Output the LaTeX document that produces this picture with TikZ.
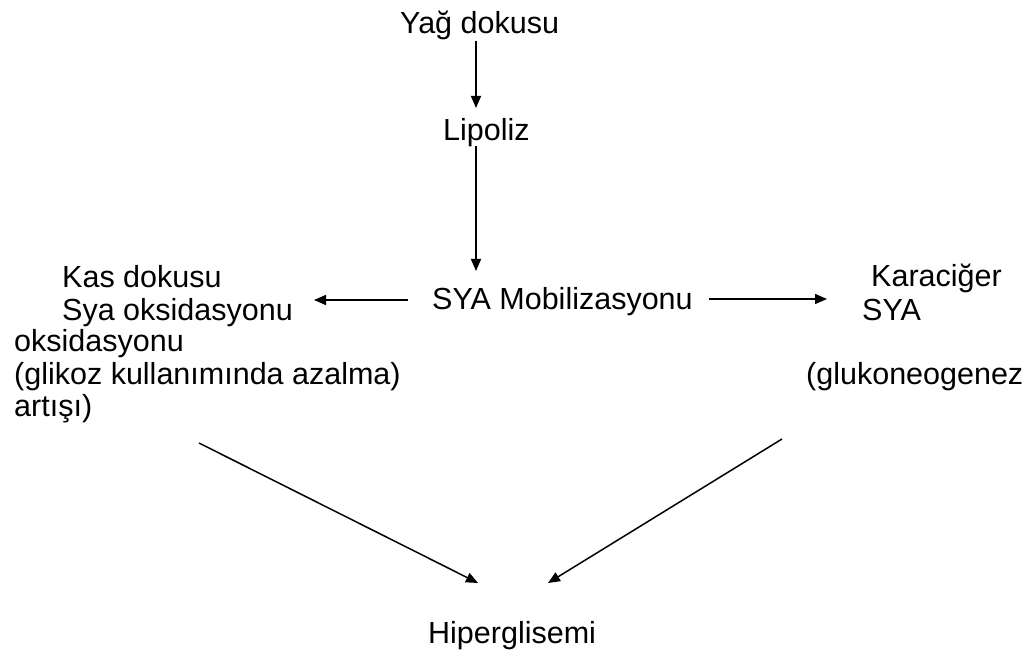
\documentclass[tikz,border=0pt]{standalone}
\usepackage{fontspec}
\setmainfont{Liberation Sans}
\usetikzlibrary{arrows.meta}
\begin{document}
\begin{tikzpicture}[x=1pt,y=-1pt,
  lbl/.style={inner sep=0pt,anchor=base west,font=\fontsize{30.5}{32}\selectfont},
  arr/.style={line width=1.5pt,-{Triangle[length=12pt,width=10pt]}}]
\useasboundingbox[fill=white] (0,0) rectangle (1029,655);
% top of the chain
\node[lbl] (yag) at (400,34) {Yağ dokusu};
\node[lbl] (lip) at (443,141) {Lipoliz};
\node[lbl] (mob) at (432,310) {SYA Mobilizasyonu};
% muscle side
\node[lbl] (kas1) at (62,288) {Kas dokusu};
\node[lbl] (kas2) at (62,320) {Sya oksidasyonu};
\node[lbl] (kas3) at (14,352) {oksidasyonu};
\node[lbl] (kas4) at (14,384) {(glikoz kullanımında azalma)};
\node[lbl] (kas5) at (14,416) {artışı)};
% liver side
\node[lbl] (kc1) at (871,287) {Karaciğer};
\node[lbl] (kc2) at (862,320) {SYA};
\node[lbl] (kc3) at (806,384) {(glukoneogenez};
% outcome
\node[lbl] (hip) at (428,643) {Hiperglisemi};
% connector end points
\coordinate (yagO) at (yag.south -| 476,0);
\coordinate (lipI) at (476,108);
\coordinate (lipO) at (476,146);
\coordinate (mobI) at (476,271);
\coordinate (mobL) at (408,300);
\coordinate (kasI) at (314,300);
\coordinate (mobR) at (709,299);
\coordinate (kcI)  at (827,299);
\coordinate (kasO) at (199,443);
\coordinate (hipL) at (478,583);
\coordinate (kcO)  at (782,439);
\coordinate (hipR) at (548,583);
% connectors
\draw[arr] (yagO) -- (lipI);
\draw[arr] (lipO) -- (mobI);
\draw[arr] (mobL) -- (kasI);
\draw[arr] (mobR) -- (kcI);
\draw[arr] (kasO) -- (hipL);
\draw[arr] (kcO) -- (hipR);
\end{tikzpicture}
\end{document}
